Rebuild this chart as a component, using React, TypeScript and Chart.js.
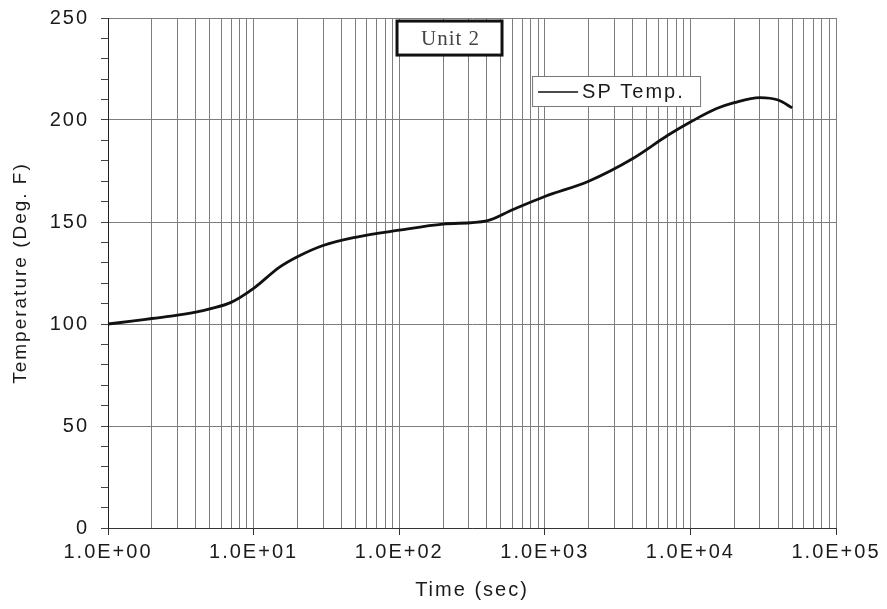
import React, { useEffect, useRef } from 'react';
import { Chart, registerables } from 'chart.js';

Chart.register(...registerables);

// ---- data ----
const timeSec = [1, 1.5, 2, 3, 4, 5, 7, 10, 15, 20, 30, 50, 100, 200, 400, 600, 1000, 2000, 4000, 7000, 10000, 15000, 20000, 30000, 40000, 50000];
const spTemp = [100, 101.5, 102.7, 104.3, 105.8, 107.4, 110.6, 117.5, 127.8, 133, 138.5, 142.5, 146, 149, 150.6, 156, 162.5, 170, 181, 192.5, 199, 205.5, 208.5, 211, 209.8, 206];
const seriesLabel = 'SP Temp.';
const boxTitle = 'Unit 2';
const xTitle = 'Time (sec)';
const yTitle = 'Temperature (Deg. F)';
const xDecades = [1, 10, 100, 1000, 10000, 100000];
const xMinorMultipliers = [1, 2, 3, 4, 5, 6, 7, 8, 9];
const yMin = 0;
const yMax = 250;
const yMajorStep = 50;
const yMinorStep = 10;

const FONT = 'Arial, "Liberation Sans", sans-serif';
const GRID = '#7d7d7d';
const TEXT = '#1a1a1a';

function fmtExp(v: number): string {
  const e = Math.round(Math.log10(v));
  return '1.0E' + (e < 0 ? '-' : '+') + String(Math.abs(e)).padStart(2, '0');
}
function isDecade(v: number): boolean {
  const l = Math.log10(v);
  return Math.abs(l - Math.round(l)) < 1e-9;
}

const decorPlugin = {
  id: 'decor',
  beforeDraw(chart: any) {
    const ctx = chart.ctx;
    ctx.save();
    ctx.letterSpacing = '2px';
  },
  afterDraw(chart: any) {
    const ctx = chart.ctx;
    const a = chart.chartArea;
    const w = a.right - a.left;
    const h = a.bottom - a.top;

    // "Unit 2" box
    const ux = a.left + w * 0.397;
    const uy = a.top + h * 0.006;
    const uw = 105;
    const uh = 34;
    ctx.save();
    ctx.letterSpacing = '1px';
    ctx.fillStyle = '#ffffff';
    ctx.fillRect(ux, uy, uw, uh);
    ctx.lineWidth = 3;
    ctx.strokeStyle = '#111';
    ctx.strokeRect(ux, uy, uw, uh);
    ctx.fillStyle = '#444';
    ctx.font = '21px "Liberation Serif", "Times New Roman", serif';
    ctx.textAlign = 'center';
    ctx.textBaseline = 'middle';
    ctx.fillText(boxTitle, ux + uw / 2 + 1, uy + uh / 2 + 1);
    ctx.restore();

    // legend box
    const lx = a.left + w * 0.5825;
    const ly = a.top + h * 0.1137;
    const lw = 168;
    const lh = 30;
    ctx.save();
    ctx.letterSpacing = '2px';
    ctx.fillStyle = '#ffffff';
    ctx.fillRect(lx, ly, lw, lh);
    ctx.lineWidth = 1;
    ctx.strokeStyle = '#777';
    ctx.strokeRect(lx + 0.5, ly + 0.5, lw, lh);
    ctx.strokeStyle = '#111';
    ctx.lineWidth = 1.5;
    ctx.beginPath();
    ctx.moveTo(lx + 6, ly + lh / 2 + 1);
    ctx.lineTo(lx + 46, ly + lh / 2 + 1);
    ctx.stroke();
    ctx.fillStyle = TEXT;
    ctx.font = '20px ' + FONT;
    ctx.textAlign = 'left';
    ctx.textBaseline = 'middle';
    ctx.fillText(seriesLabel, lx + 50, ly + lh / 2 + 1);
    ctx.restore();

    ctx.restore();
  },
};

export default function App() {
  const canvasRef = useRef<HTMLCanvasElement | null>(null);

  useEffect(() => {
    const canvas = canvasRef.current;
    if (!canvas) return;
    const points = timeSec.map((t, i) => ({ x: t, y: spTemp[i] }));

    const chart = new Chart(canvas, {
      type: 'line',
      data: {
        datasets: [
          {
            label: seriesLabel,
            data: points,
            borderColor: '#111',
            borderWidth: 2.8,
            pointRadius: 0,
            fill: false,
            cubicInterpolationMode: 'monotone',
          },
        ],
      },
      options: {
        animation: false,
        responsive: false,
        maintainAspectRatio: false,
        layout: { padding: { left: 0, right: 51, top: 18, bottom: 0 } },
        plugins: {
          legend: { display: false },
          tooltip: { enabled: false },
        },
        scales: {
          x: {
            type: 'logarithmic',
            min: xDecades[0],
            max: xDecades[xDecades.length - 1],
            afterBuildTicks(scale: any) {
              const ticks: any[] = [];
              for (let d = 0; d < xDecades.length - 1; d++) {
                for (const m of xMinorMultipliers) ticks.push({ value: xDecades[d] * m });
              }
              ticks.push({ value: xDecades[xDecades.length - 1] });
              scale.ticks = ticks;
            },
            afterFit(scale: any) {
              scale.height = 81;
              scale.paddingLeft = 0;
              scale.paddingRight = 0;
            },
            ticks: {
              autoSkip: false,
              maxRotation: 0,
              minRotation: 0,
              padding: 5,
              color: TEXT,
              font: { family: FONT, size: 20 },
              callback: (v: any) => (isDecade(Number(v)) ? fmtExp(Number(v)) : ''),
            },
            grid: {
              color: GRID,
              lineWidth: 1,
              drawTicks: true,
              tickLength: 7,
              tickColor: (c: any) => (c.tick && isDecade(c.tick.value) ? '#333' : 'rgba(0,0,0,0)'),
            },
            border: { color: '#333', width: 1 },
            title: {
              display: true,
              text: xTitle,
              color: TEXT,
              font: { family: FONT, size: 20 },
              padding: { top: 0, bottom: 7 },
            },
          },
          y: {
            type: 'linear',
            min: yMin,
            max: yMax,
            afterFit(scale: any) {
              scale.width = 108;
              scale.paddingTop = 0;
              scale.paddingBottom = 0;
            },
            ticks: {
              stepSize: yMinorStep,
              autoSkip: false,
              padding: 12,
              color: TEXT,
              font: { family: FONT, size: 20 },
              callback: (v: any) => (Number(v) % yMajorStep === 0 ? String(v) : ''),
            },
            grid: {
              color: (c: any) => (c.tick && c.tick.value % yMajorStep === 0 ? GRID : 'rgba(0,0,0,0)'),
              lineWidth: 1,
              drawTicks: true,
              tickLength: 7,
              tickColor: '#444',
            },
            border: { color: '#222', width: 1 },
            title: {
              display: true,
              text: yTitle,
              color: TEXT,
              font: { family: FONT, size: 19 },
              padding: { top: 9, bottom: 0 },
            },
          },
        },
      },
      plugins: [decorPlugin],
    } as any);

    return () => chart.destroy();
  }, []);

  return (
    <div style={{ position: 'absolute', left: 0, top: 0, width: 887, height: 609, background: '#fff' }}>
      <canvas ref={canvasRef} width={887} height={609} style={{ display: 'block', width: 887, height: 609 }} />
    </div>
  );
}
